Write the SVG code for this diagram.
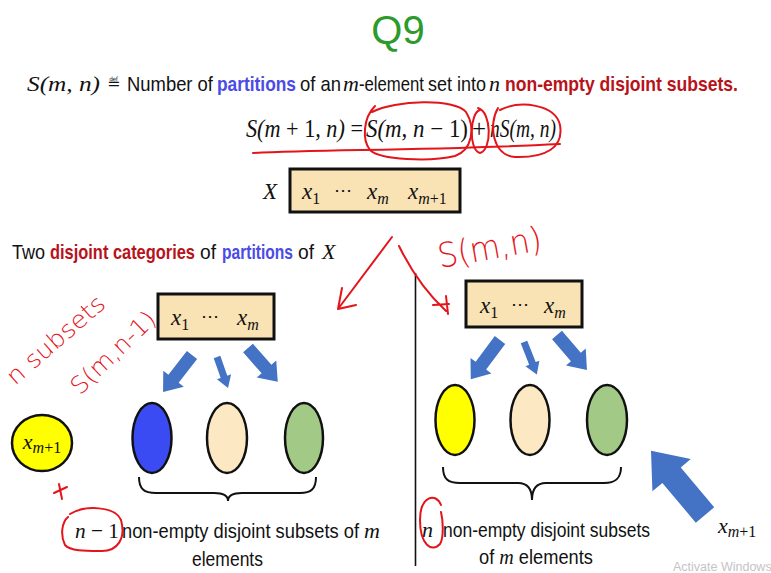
<svg xmlns="http://www.w3.org/2000/svg" width="771" height="573" viewBox="0 0 771 573">
<style>
.t{font-family:"Liberation Sans",Arial,sans-serif;fill:#111;font-size:20px}
.m{font-family:"Liberation Serif","Times New Roman",serif;font-style:italic;fill:#111}
.up{font-style:normal}
.blue{fill:#4B4BE6;font-weight:bold}
.dred{fill:#B8121B;font-weight:bold}
.hand{fill:none;stroke:#E4141B;stroke-width:2;stroke-linecap:round;stroke-linejoin:round}
.htxt{font-family:"DejaVu Sans",sans-serif;font-weight:200;fill:#E4141B}
.box{fill:#F9E2B4;stroke:#111;stroke-width:3}
.ell{stroke:#111;stroke-width:2.5}
.brace{fill:none;stroke:#111;stroke-width:2}
.barrow{fill:#4472C4}
</style>
<rect width="771" height="573" fill="#fff"/>
<text x="398" y="44" text-anchor="middle" font-family="Liberation Sans,Arial,sans-serif" font-size="40" fill="#2C9A2C">Q9</text>

<g id="definition">
<text class="m" x="27" y="91" font-size="22" textLength="73" lengthAdjust="spacingAndGlyphs">S(m, n)</text>
<text x="107" y="89" font-family="DejaVu Sans,sans-serif" font-size="16" fill="#111">≝</text>
<text class="t" transform="translate(127,91) scale(0.83,1)" textLength="103.6" lengthAdjust="spacingAndGlyphs">Number of</text>
<text class="t blue" transform="translate(217,91) scale(0.83,1)" textLength="95.2" lengthAdjust="spacingAndGlyphs">partitions</text>
<text class="t" transform="translate(300,91) scale(0.83,1)" textLength="49.4" lengthAdjust="spacingAndGlyphs">of an</text>
<text class="m" x="343" y="91" font-size="22">m</text>
<text class="t" transform="translate(359,91) scale(0.83,1)" textLength="78.3" lengthAdjust="spacingAndGlyphs">-element</text>
<text class="t" transform="translate(428,91) scale(0.83,1)" textLength="69.9" lengthAdjust="spacingAndGlyphs">set into</text>
<text class="m" x="489" y="91" font-size="22">n</text>
<text class="t dred" transform="translate(505,91) scale(0.83,1)" textLength="280.7" lengthAdjust="spacingAndGlyphs">non-empty disjoint subsets.</text>
</g>

<g id="recurrence">
<text class="m" font-size="25" transform="translate(246,137) scale(0.85,1)" textLength="137.6" lengthAdjust="spacingAndGlyphs">S(m <tspan class="up">+ 1</tspan>, n) <tspan class="up">=</tspan></text>
<text class="m" font-size="25" transform="translate(366,137) scale(0.85,1)" textLength="120" lengthAdjust="spacingAndGlyphs">S(m, n <tspan class="up">− 1)</tspan></text>
<text class="m up" x="472" y="137" font-size="25">+</text>
<text class="m" font-size="25" transform="translate(490,137) scale(0.85,1)" textLength="77.6" lengthAdjust="spacingAndGlyphs">nS(m, n)</text>
</g>

<g id="setX">
<text class="m" x="263" y="199" font-size="23">X</text>
<rect class="box" x="290" y="169" width="170" height="43"/>
<text class="m" x="302" y="199" font-size="23">x<tspan class="up" font-size="16" dy="5">1</tspan></text>
<text class="m up" x="334" y="196" font-size="18">⋯</text>
<text class="m" x="367" y="199" font-size="23">x<tspan font-size="16" dy="5">m</tspan></text>
<text class="m" x="408" y="199" font-size="23">x<tspan font-size="16" dy="5">m<tspan class="up">+1</tspan></tspan></text>
</g>

<g id="categories">
<text class="t" transform="translate(12,259) scale(0.83,1)" textLength="39.8" lengthAdjust="spacingAndGlyphs">Two</text>
<text class="t dred" transform="translate(50,259) scale(0.83,1)" textLength="174.7" lengthAdjust="spacingAndGlyphs">disjoint categories</text>
<text class="t" transform="translate(200,259) scale(0.83,1)" textLength="19.3" lengthAdjust="spacingAndGlyphs">of</text>
<text class="t blue" transform="translate(222,259) scale(0.83,1)" textLength="85.5" lengthAdjust="spacingAndGlyphs">partitions</text>
<text class="t" transform="translate(298,259) scale(0.83,1)" textLength="19.3" lengthAdjust="spacingAndGlyphs">of</text>
<text class="m" x="322" y="259" font-size="22">X</text>
</g>

<line x1="415.5" y1="273" x2="415.5" y2="566" stroke="#111" stroke-width="1.6"/>

<g id="leftCase">
<rect class="box" x="158" y="294" width="116" height="45"/>
<text class="m" x="171" y="325" font-size="23">x<tspan class="up" font-size="16" dy="5">1</tspan></text>
<text class="m up" x="201" y="322" font-size="18">⋯</text>
<text class="m" x="237" y="325" font-size="23">x<tspan font-size="16" dy="5">m</tspan></text>
<ellipse class="ell" cx="42" cy="443" rx="30" ry="28" fill="#FFFF00"/>
<text class="m" x="42" y="449" font-size="22" text-anchor="middle">x<tspan font-size="16" dy="4">m<tspan class="up">+1</tspan></tspan></text>
<ellipse class="ell" cx="152" cy="438" rx="19.5" ry="35" fill="#3A4BF4"/>
<ellipse class="ell" cx="227" cy="438" rx="20" ry="35" fill="#FCE8C2"/>
<ellipse class="ell" cx="304" cy="438" rx="19" ry="35" fill="#A3C986"/>
<path class="brace" d="M139,477 C139,489 144,493 156,493 L214,493 C224,493 228,496 228,501 C228,496 232,493 242,493 L300,493 C311,493 316,489 316,477"/>
<text class="m" x="75" y="538" font-size="22" textLength="44" lengthAdjust="spacingAndGlyphs">n <tspan class="up">− 1</tspan></text>
<text class="t" transform="translate(122,538) scale(0.83,1)" textLength="285.5" lengthAdjust="spacingAndGlyphs">non-empty disjoint subsets of</text>
<text class="m" x="364" y="538" font-size="22">m</text>
<text class="t" transform="translate(192,566) scale(0.83,1)" textLength="85.5" lengthAdjust="spacingAndGlyphs">elements</text>
</g>

<g id="rightCase">
<rect class="box" x="466" y="281" width="116" height="46"/>
<text class="m" x="480" y="313" font-size="23">x<tspan class="up" font-size="16" dy="5">1</tspan></text>
<text class="m up" x="511" y="310" font-size="18">⋯</text>
<text class="m" x="544" y="313" font-size="23">x<tspan font-size="16" dy="5">m</tspan></text>
<ellipse class="ell" cx="455" cy="420" rx="19.5" ry="35" fill="#FFFF00"/>
<ellipse class="ell" cx="530" cy="420" rx="19.5" ry="35" fill="#FCE8C2"/>
<ellipse class="ell" cx="607" cy="420" rx="20" ry="35" fill="#A3C986"/>
<path class="brace" d="M443,467 C443,479 448,483 460,483 L518,483 C528,483 532,490 532,500 C532,490 536,483 546,483 L604,483 C615,483 621,479 621,467"/>
<text class="m" x="422" y="537" font-size="22">n</text>
<text class="t" transform="translate(443,537) scale(0.83,1)" textLength="249.4" lengthAdjust="spacingAndGlyphs">non-empty disjoint subsets</text>
<text class="t" transform="translate(479,564) scale(0.83,1)" textLength="137.3" lengthAdjust="spacingAndGlyphs">of <tspan class="m" font-size="22">m</tspan> elements</text>
<text class="m" x="718" y="533" font-size="22">x<tspan font-size="16" dy="4">m<tspan class="up">+1</tspan></tspan></text>
</g>

<g id="connectors">
<path class="barrow" transform="translate(192,355) rotate(128)" d="M0,-6.5 L30,-6.5 L30,-13 L47,0 L30,13 L30,6.5 L0,6.5Z"/>
<path class="barrow" transform="translate(217,357) rotate(70.5)" d="M0,-3.5 L21,-3.5 L21,-7.5 L33,0 L21,7.5 L21,3.5 L0,3.5Z"/>
<path class="barrow" transform="translate(248,348) rotate(48.6)" d="M0,-6.5 L28,-6.5 L28,-13 L45,0 L28,13 L28,6.5 L0,6.5Z"/>
<path class="barrow" transform="translate(500,340) rotate(126.6)" d="M0,-6.5 L32,-6.5 L32,-13 L49,0 L32,13 L32,6.5 L0,6.5Z"/>
<path class="barrow" transform="translate(524,342) rotate(68.5)" d="M0,-3.5 L23,-3.5 L23,-7.5 L35,0 L23,7.5 L23,3.5 L0,3.5Z"/>
<path class="barrow" transform="translate(557,335) rotate(49.4)" d="M0,-6.5 L29,-6.5 L29,-13 L46,0 L29,13 L29,6.5 L0,6.5Z"/>
<path class="barrow" transform="translate(705,515) rotate(-130)" d="M0,-12 L52,-12 L52,-25 L84,0 L52,25 L52,12 L0,12Z"/>
<path class="hand" d="M392,237 L338,309 M342,288 L338,309 L356,305"/>
<path class="hand" d="M399,246 Q418,285 446,311 M433,305 L449,304 M446,296 L448,314"/>
</g>

<g id="annotations">
<path class="hand" d="M253,153 C320,149 420,151 560,144"/>
<path class="hand" d="M372,112 C395,100 455,98 466,112 C476,128 472,150 455,156 C430,162 380,160 370,150 C362,140 363,118 375,106"/>
<path class="hand" d="M480,110 C470,112 468,150 480,153 C492,150 492,112 478,108"/>
<path class="hand" d="M500,110 C520,100 555,104 560,125 C564,148 545,158 515,157 C493,156 488,125 498,108"/>
<text class="htxt" x="440" y="268" font-size="34" textLength="105" lengthAdjust="spacingAndGlyphs" transform="rotate(-10 440 268)">S(m,n)</text>
<text class="htxt" x="15" y="386" font-size="24" textLength="122" lengthAdjust="spacingAndGlyphs" transform="rotate(-41 15 386)">n subsets</text>
<text class="htxt" x="80" y="396" font-size="24" textLength="108" lengthAdjust="spacingAndGlyphs" transform="rotate(-44 80 396)">S(m,n-1)</text>
<path class="hand" d="M54,493 L67,487 M59,484 L62,499"/>
<path class="hand" d="M70,514 C85,505 115,506 121,520 C126,538 118,552 100,551 C85,551 70,551 65,545 C60,535 62,522 68,517"/>
<path class="hand" d="M441,505 C436,492 420,496 420,520 C420,545 432,553 440,544 C444,538 443,520 441,512"/>
</g>
<text x="673" y="571" font-family="Liberation Sans,Arial,sans-serif" font-size="12.5" fill="#C4C4C4">Activate Windows</text>
</svg>
